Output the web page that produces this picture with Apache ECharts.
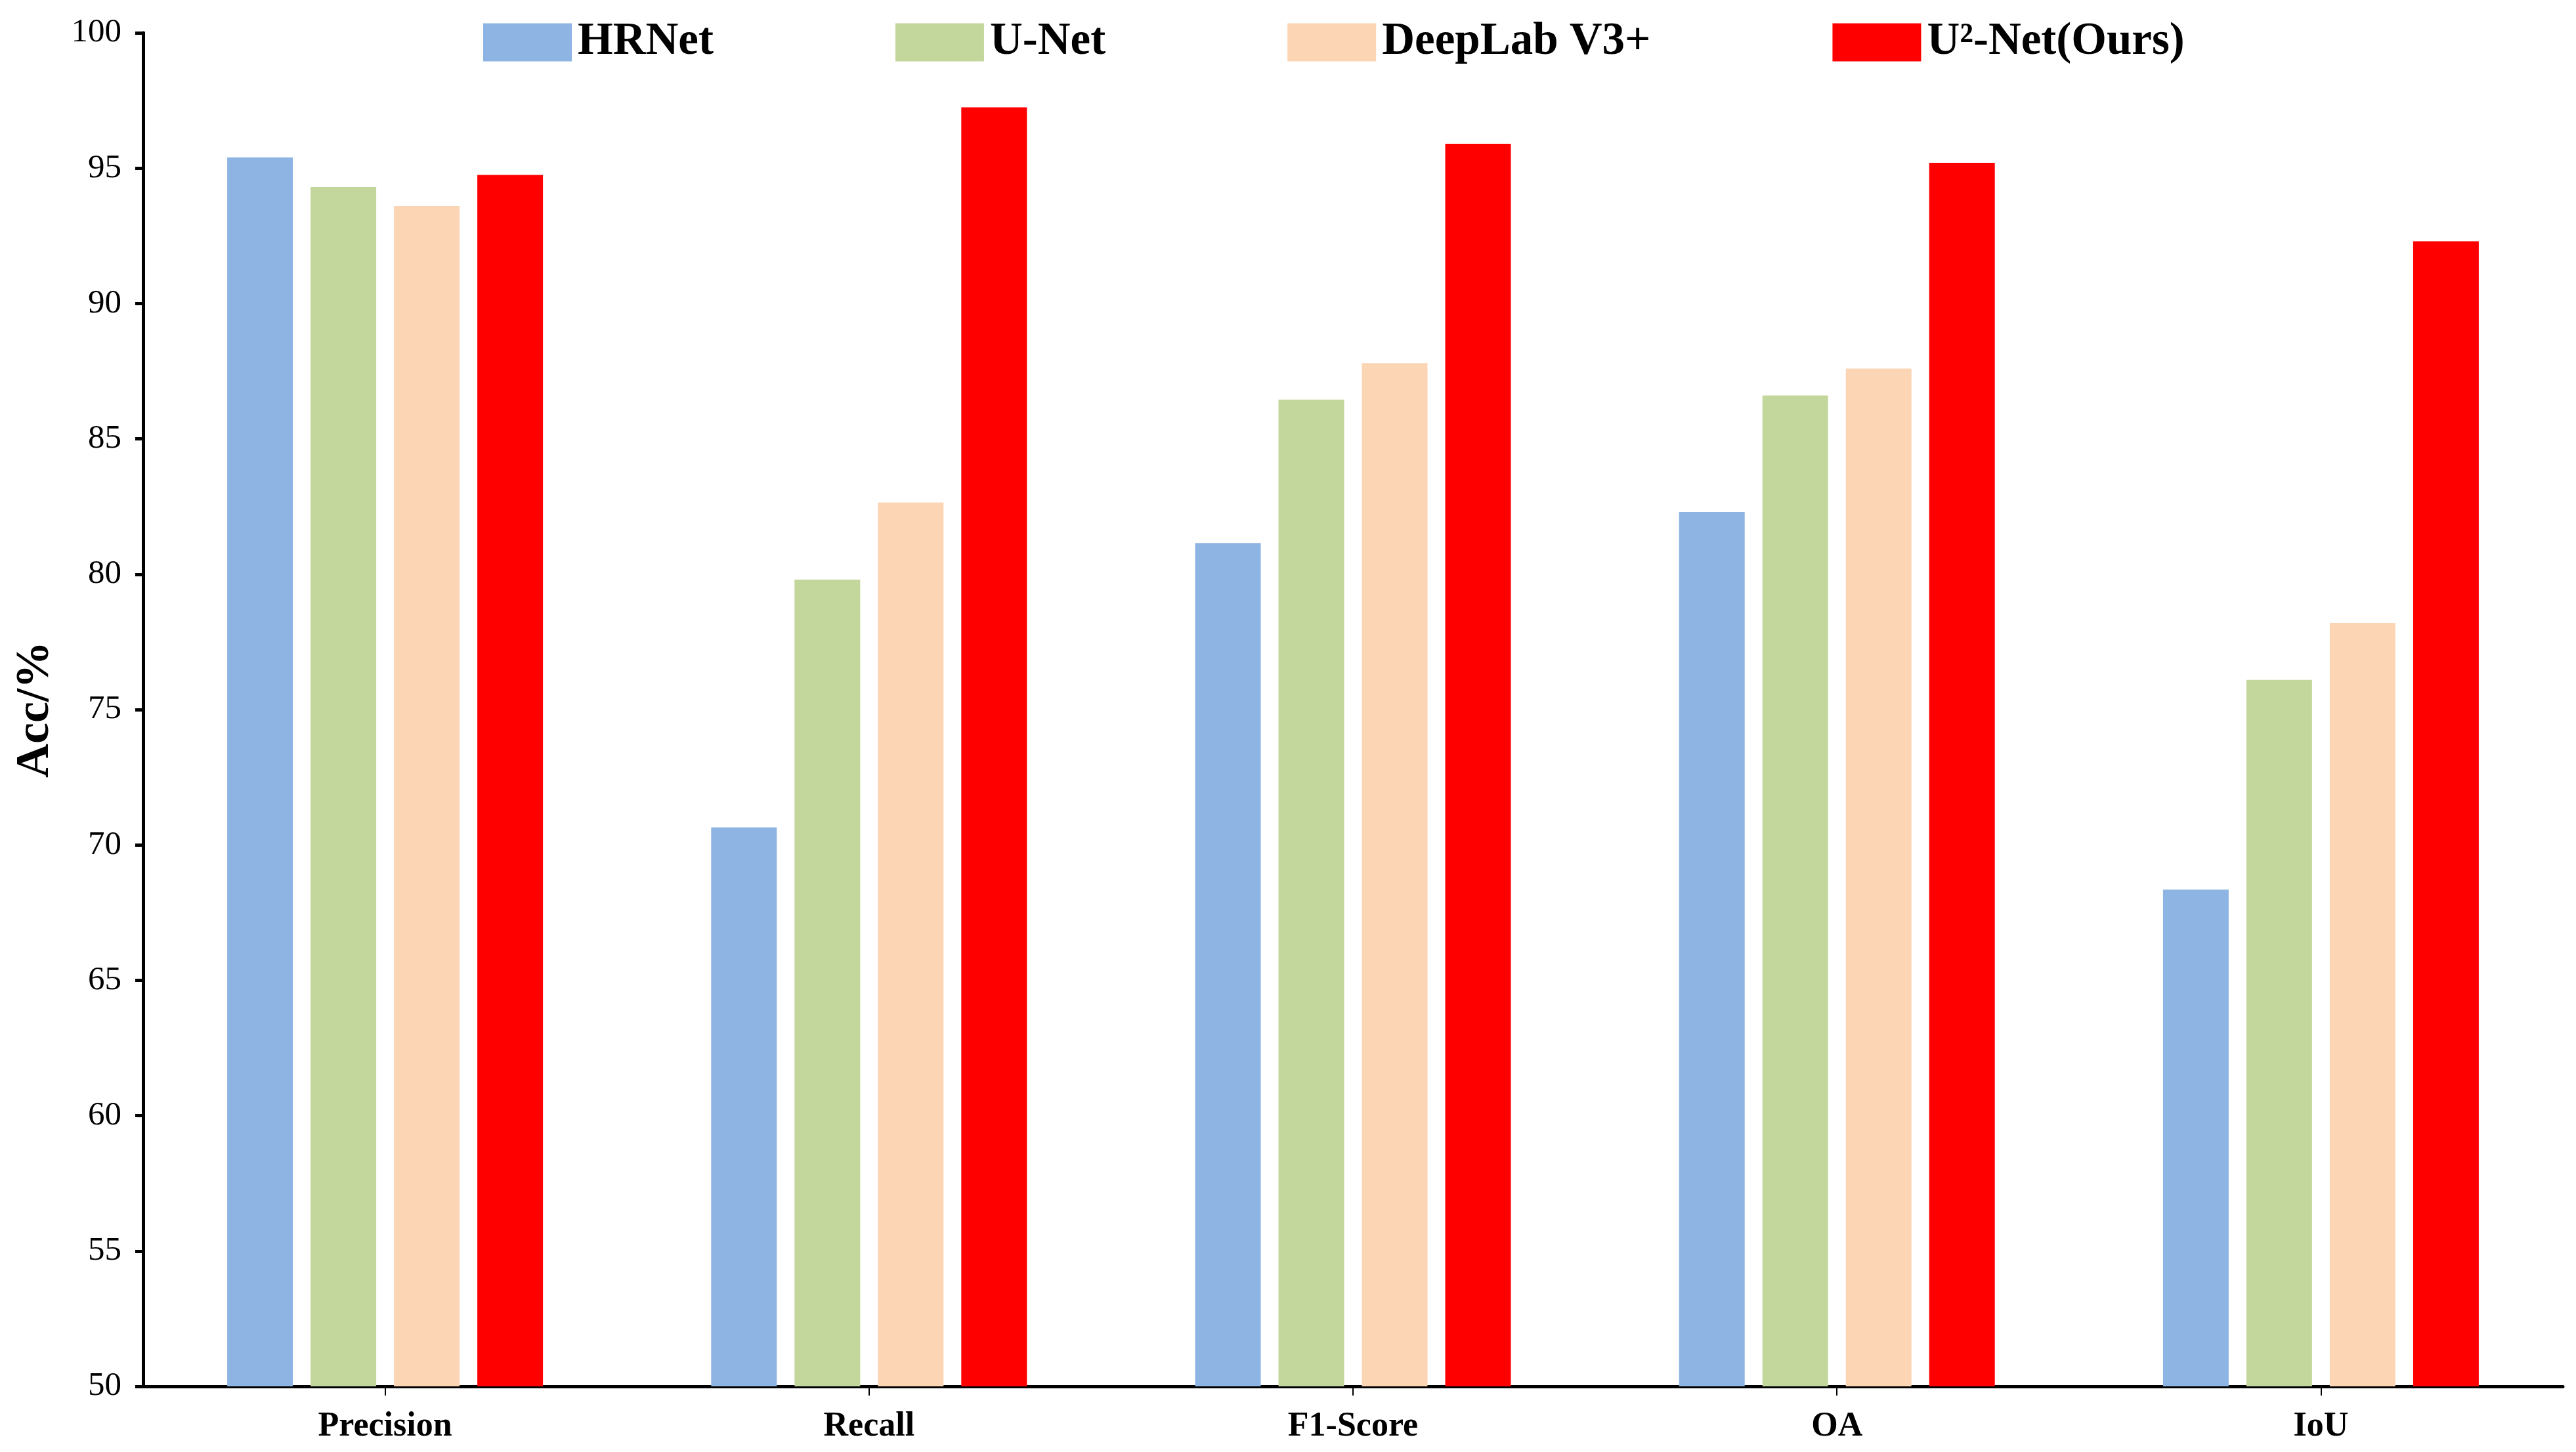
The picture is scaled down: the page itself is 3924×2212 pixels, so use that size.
<!DOCTYPE html>
<html>
<head>
<meta charset="utf-8">
<script src="https://cdn.jsdelivr.net/npm/echarts@6/dist/echarts.min.js"></script>
<style>html,body{margin:0;padding:0;background:#fff}#c{width:3924px;height:2212px}</style>
</head>
<body>
<div id="c"></div>
<script>
const categories = ['Precision', 'Recall', 'F1-Score', 'OA', 'IoU'];
const seriesNames = ['HRNet', 'U-Net', 'DeepLab V3+', 'U\u00B2-Net(Ours)'];
const hrnet   = [95.4, 70.65, 81.15, 82.3, 68.35];
const unet    = [94.3, 79.8, 86.45, 86.6, 76.1];
const deeplab = [93.6, 82.65, 87.8, 87.6, 78.2];
const u2net   = [94.75, 97.25, 95.9, 95.2, 92.3];
const colors = ['#8EB4E3', '#C3D69B', '#FCD5B5', '#FF0000'];
const yTicks = [50, 55, 60, 65, 70, 75, 80, 85, 90, 95, 100];

const values = [hrnet, unet, deeplab, u2net];
const FONT = '"Liberation Serif", "DejaVu Serif", serif';
const chart = echarts.init(document.getElementById('c'));
chart.setOption({
  animation: false,
  backgroundColor: '#ffffff',
  legend: {
    left: 731, top: 25,
    itemWidth: 135, itemHeight: 58, itemGap: 277,
    icon: 'rect',
    textStyle: { fontFamily: FONT, fontSize: 69, fontWeight: 'bold', color: '#000', padding: [0, 0, 0, 4] },
    data: seriesNames
  },
  grid: { left: 218, right: 20, top: 50, bottom: 100, containLabel: false, outerBoundsMode: 'none' },
  xAxis: {
    type: 'category',
    data: categories,
    axisLine: { lineStyle: { color: '#000', width: 5 } },
    axisTick: { show: true, alignWithLabel: true, length: 14, lineStyle: { color: '#000', width: 2 } },
    axisLabel: { fontFamily: FONT, fontSize: 52, fontWeight: 'bold', color: '#000', margin: 36 }
  },
  yAxis: {
    type: 'value',
    min: yTicks[0], max: yTicks[yTicks.length - 1], interval: 5,
    name: 'Acc/%',
    nameLocation: 'middle',
    nameGap: 128,
    nameRotate: 90,
    nameTextStyle: { fontFamily: FONT, fontSize: 72, fontWeight: 'bold', color: '#000' },
    splitLine: { show: false },
    axisLine: { show: true, lineStyle: { color: '#000', width: 5 } },
    axisTick: { show: true, length: 12, lineStyle: { color: '#000', width: 5 } },
    axisLabel: { fontFamily: FONT, fontSize: 51, color: '#000', margin: 33 }
  },
  series: seriesNames.map((n, i) => ({
    name: n,
    type: 'bar',
    data: values[i],
    barWidth: 100,
    barGap: '27%',
    itemStyle: { color: colors[i] }
  }))
});
</script>
</body>
</html>
